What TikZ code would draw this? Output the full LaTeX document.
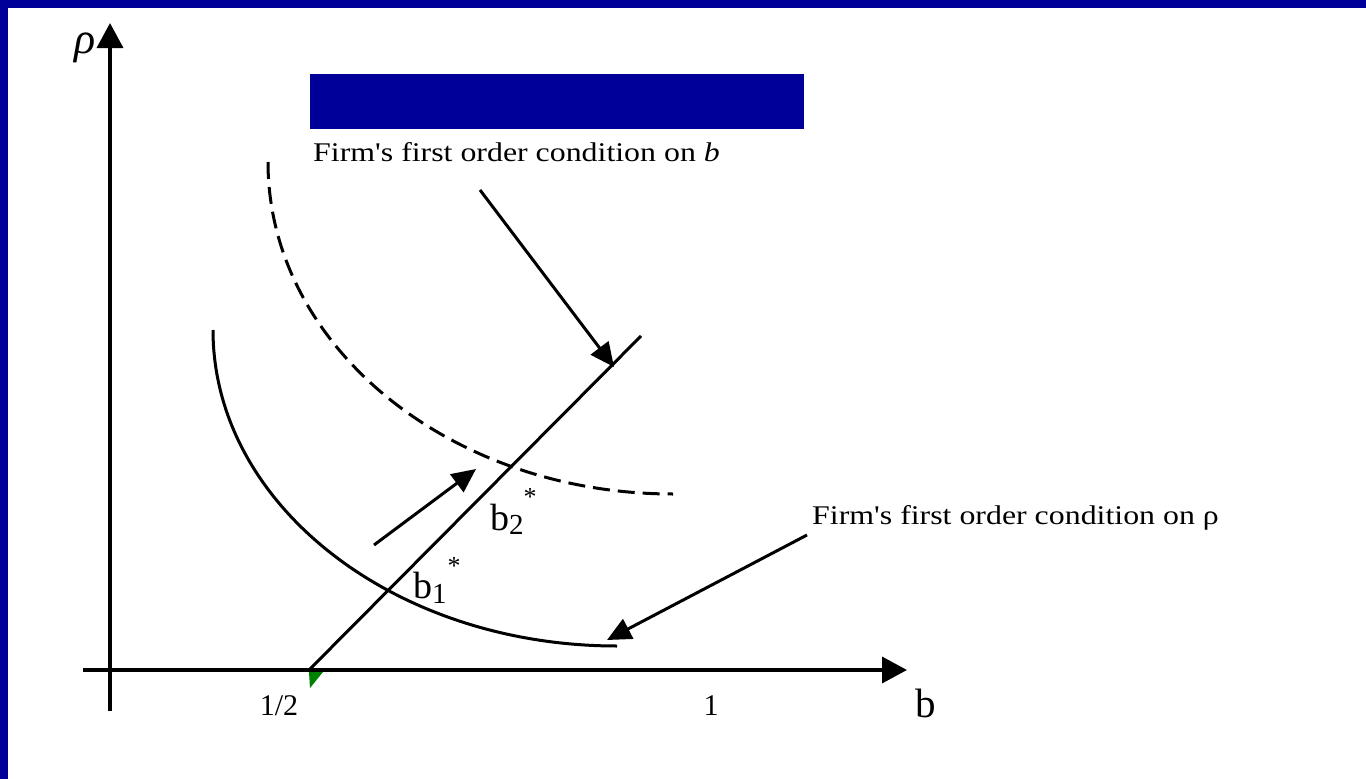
\documentclass[tikz,border=0pt]{standalone}
\usepackage{fontspec}
\setmainfont{Liberation Serif}
\newfontfamily\widefont{Liberation Serif}[FakeStretch=1.18]
\usetikzlibrary{arrows.meta}
\definecolor{slideblue}{RGB}{0,0,153}
\definecolor{markgreen}{RGB}{0,128,0}
\begin{document}
\begin{tikzpicture}[x=1pt,y=-1pt,
  axisline/.style={line width=3.5pt,-{Triangle[length=25pt,width=26pt]}},
  curveline/.style={line width=3pt},
  dashcurve/.style={line width=3pt,dash pattern=on 17pt off 8pt},
  pointer/.style={line width=3pt,-{Triangle[length=24pt,width=22pt]}},
  foctext/.style={inner sep=0pt,anchor=base west,font=\widefont\fontsize{27}{32}\selectfont},
  ticktext/.style={inner sep=0pt,anchor=base,font=\fontsize{30}{34}\selectfont},
  blabel/.style={inner sep=0pt,anchor=base west,font=\fontsize{38}{40}\selectfont},
  startext/.style={inner sep=0pt,font=\fontsize{26}{28}\selectfont},
]
\useasboundingbox (0,0) rectangle (1366,779);
\fill[white] (0,0) rectangle (1366,779);
% slide border (top and left)
\fill[slideblue] (0,0) rectangle (1366,7.5);
\fill[slideblue] (0,0) rectangle (8,779);
% title bar
\fill[slideblue] (310,74) rectangle (804,129);

% axes
\coordinate (ybot) at (110,711);
\coordinate (ytop) at (110,23);
\coordinate (xleft) at (83,670);
\coordinate (xright) at (907,670);
\draw[axisline] (ybot) -- (ytop);
\draw[axisline] (xleft) -- (xright);
\node[inner sep=0pt,anchor=base,font=\fontsize{44}{48}\selectfont] (rholab) at (85,53) {\textit{ρ}};
\node[ticktext] (half) at (279,715) {1/2};
\node[ticktext] (one) at (711,715) {1};
\node[inner sep=0pt,anchor=base,font=\fontsize{41}{44}\selectfont] (blab) at (926,717) {b};

% green marker
\fill[markgreen] (309,672) -- (323,672) -- (310,688) -- cycle;

% FOC on b (straight line)
\coordinate (focbA) at (309,670);
\coordinate (focbB) at (641,336);
\draw[curveline] (focbA) -- (focbB);

% FOC on rho curves
\draw[curveline] (213,330) arc[start angle=180,end angle=90,x radius=404,y radius=316];
\draw[dashcurve] (268,162) arc[start angle=180,end angle=90,x radius=405,y radius=332];

% labels
\node[foctext] (focb) at (313,161) {Firm's first order condition on \textit{b}};
\node[foctext] (focr) at (812,524) {Firm's first order condition on ρ};

\node[blabel] (b1) at (413,598) {b\raisebox{-5pt}{\fontsize{29}{30}\selectfont 1}};
\node[startext] (s1) at (454,566) {*};
\node[blabel] (b2) at (490,530) {b\raisebox{-4pt}{\fontsize{29}{30}\selectfont 2}};
\node[startext] (s2) at (530,497) {*};

% pointer arrows
\coordinate (p1tail) at (480,190);
\coordinate (p1tip) at (614,367);
\draw[pointer] (p1tail) -- (p1tip);
\coordinate (p2tail) at (374,545);
\coordinate (p2tip) at (476,469);
\draw[pointer] (p2tail) -- (p2tip);
\coordinate (p3tail) at (807,535);
\coordinate (p3tip) at (607,640);
\draw[pointer] (p3tail) -- (p3tip);
\end{tikzpicture}
\end{document}
